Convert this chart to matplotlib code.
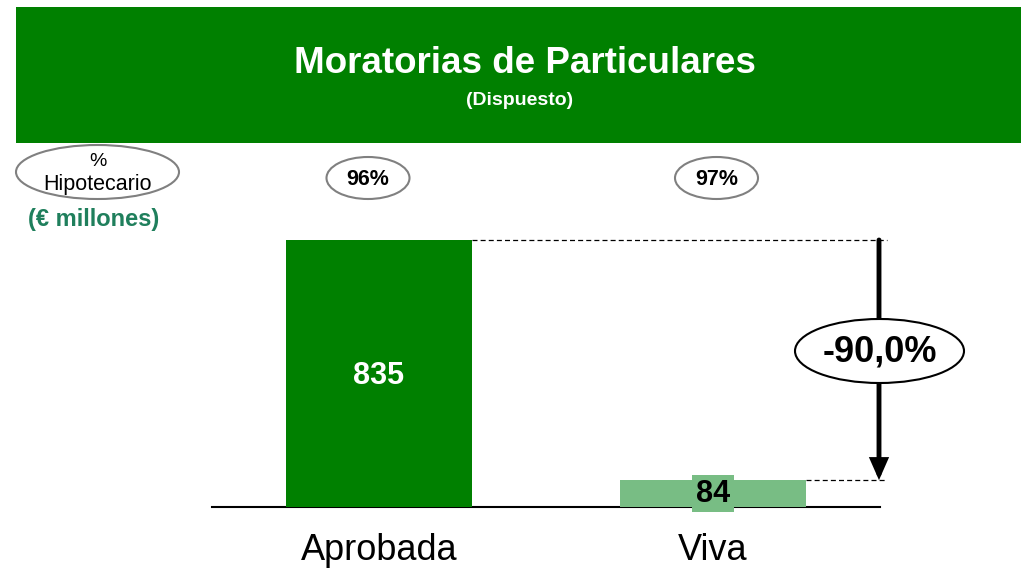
import matplotlib.pyplot as plt
from matplotlib.patches import Rectangle, Ellipse

plt.rcParams['font.family'] = ['Liberation Sans', 'DejaVu Sans']

# Data:
categories = ['Aprobada', 'Viva']
values = [835, 84]
pct_hipotecario = ['96%', '97%']
change_label = '-90,0%'

title = 'Moratorias de Particulares'
subtitle = '(Dispuesto)'
units = '(€ millones)'

# Colours:
c_dark = '#008000'
c_light = '#78BD84'
c_units = '#1F7F5C'

W, H = 1021, 569
fig = plt.figure(figsize=(W / 100, H / 100), dpi=100)

# Main bar axes (baseline at y=507 px, 835 at y=240 px):
ax = fig.add_axes([212 / W, 1 - 507 / H, 668 / W, 267 / H])
ax.patch.set_visible(False)
x_pos = list(range(len(categories)))
bar_w = 0.557
bars = ax.bar(x_pos, values, width=bar_w, color=[c_dark, c_light], zorder=2)
ax.set_xlim(-0.5, 1.5)
ax.set_ylim(0, max(values))
ax.set_xticks(x_pos)
ax.set_xticklabels(categories, fontsize=26)
ax.tick_params(axis='x', length=0, pad=19)
ax.set_yticks([])
for s in ['top', 'left', 'right']:
    ax.spines[s].set_visible(False)
ax.spines['bottom'].set_linewidth(1.5)
ax.spines['bottom'].set_zorder(1)

# Value labels:
ax.text(x_pos[0], values[0] * 0.49, str(values[0]), ha='center', va='center',
        fontsize=22, fontweight='bold', color='white', zorder=3)
ax.text(x_pos[1], values[1] / 2, str(values[1]), ha='center', va='center',
        fontsize=22, fontweight='bold', color='black', zorder=3,
        bbox=dict(facecolor=c_light, edgecolor='none', boxstyle='square,pad=0.12'))

# Dashed guide lines and arrow:
x_arrow = 1.497
x_dash_end = 1.52
for xi, v in zip(x_pos, values):
    ax.plot([xi + bar_w / 2, x_dash_end], [v, v], color='k', lw=0.9,
            ls=(0, (4, 2.5)), clip_on=False, zorder=1)
ax.annotate('', xy=(x_arrow, values[1]), xytext=(x_arrow, values[0]),
            arrowprops=dict(arrowstyle='-|>,head_length=0.5,head_width=0.22',
                            lw=3.5, color='k', joinstyle='miter',
                            mutation_scale=21, shrinkA=0, shrinkB=0),
            annotation_clip=False)

# Overlay in pixel coordinates for header and bubbles:
ov = fig.add_axes([0, 0, 1, 1], zorder=5)
ov.patch.set_visible(False)
ov.set_xlim(0, W)
ov.set_ylim(H, 0)
ov.axis('off')

ov.add_patch(Rectangle((16, 7), W - 16, 136, facecolor=c_dark, edgecolor='none'))
ov.text(525, 63, title, ha='center', va='center', fontsize=26.5,
        fontweight='bold', color='white')
ov.text(520, 100, subtitle, ha='center', va='center', fontsize=14,
        fontweight='bold', color='white')

ov.add_patch(Ellipse((97.5, 172), 163, 54, facecolor='white',
                     edgecolor='#808080', lw=1.5))
ov.text(97.5, 161, '%', ha='center', va='center', fontsize=14)
ov.text(97.5, 184, 'Hipotecario', ha='center', va='center', fontsize=15.5)
ov.text(94, 219, units, ha='center', va='center', fontsize=17,
        fontweight='bold', color=c_units)

for xc, lab in zip([368, 716.5], pct_hipotecario):
    ov.add_patch(Ellipse((xc, 178), 83, 42, facecolor='white',
                         edgecolor='#808080', lw=1.5))
    ov.text(xc, 179, lab, ha='center', va='center', fontsize=15.5,
            fontweight='bold')

ov.add_patch(Ellipse((879.5, 351), 169, 64, facecolor='white',
                     edgecolor='black', lw=1.5))
ov.text(880, 352, change_label, ha='center', va='center', fontsize=26,
        fontweight='bold')

fig.savefig('out.png', dpi=100)
